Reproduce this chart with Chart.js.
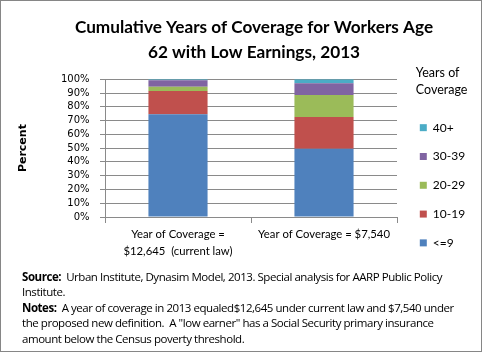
<!DOCTYPE html>
<html>
<head>
<meta charset="utf-8">
<script src="https://cdn.jsdelivr.net/npm/chart.js@4"></script>
<style>
  html, body { margin: 0; padding: 0; background: #fff; }
  #frame { position: relative; width: 480px; height: 350px; border: 1px solid #868686; overflow: hidden; }
  #wrap { position: absolute; left: 0; top: 0; width: 480px; height: 300px; }
  #notes { position: absolute; left: 21px; top: 268px; width: 455px; white-space: nowrap; font-family: "Open Sans", sans-serif; font-size: 11.5px; line-height: 15.4px; color: #000; letter-spacing: -0.45px; }
  #notes b { font-weight: bold; }
</style>
</head>
<body>
<div id="frame">
  <div id="wrap"><canvas id="chart"></canvas></div>
  <div id="notes">
    <b>Source:</b>&nbsp; Urban Institute, Dynasim Model, 2013. Special analysis for AARP Public Policy<br>
    Institute.<br>
    <b>Notes:</b>&nbsp; A year of coverage in 2013 equaled$12,645 under current law and $7,540 under<br>
    the proposed new definition.&nbsp; A "low earner" has a Social Security primary insurance<br>
    amount below the Census poverty threshold.
  </div>
</div>
<script>
// categories (x axis)
const categories = [
  ['Year of Coverage =', '$12,645  (current law)'],
  'Year of Coverage = $7,540'
];

// series, bottom to top, percent of workers
const seriesNames = ['<=9', '10-19', '20-29', '30-39', '40+'];
const le9 = [74.5, 49.5];
const y10to19 = [17.0, 23.0];
const y20to29 = [3.1, 16.0];
const y30to39 = [4.7, 8.6];
const y40plus = [0.7, 2.9];
const colors = ['#4F81BD', '#C0504D', '#9BBB59', '#8064A2', '#4BACC6'];

// y tick labels
const yTicks = [0, 10, 20, 30, 40, 50, 60, 70, 80, 90, 100];

const seriesValues = [le9, y10to19, y20to29, y30to39, y40plus];
const datasets = seriesNames.map((name, i) => ({
  label: name,
  data: seriesValues[i],
  backgroundColor: colors[i],
  borderWidth: 0,
  categoryPercentage: 1,
  barPercentage: 0.405
}));

const gridColor = '#8a8a8a';

new Chart(document.getElementById('chart'), {
  type: 'bar',
  data: { labels: categories, datasets: datasets },
  options: {
    responsive: true,
    maintainAspectRatio: false,
    animation: false,
    layout: { padding: { left: 16, right: -10, top: 0, bottom: 0 } },
    plugins: {
      title: {
        display: true,
        text: ['Cumulative Years of Coverage for Workers Age', '62 with Low Earnings, 2013'],
        color: '#000',
        font: { family: 'Lato', size: 17.2, weight: 'bold', lineHeight: 1.46 },
        padding: { top: 14, bottom: 14 }
      },
      legend: {
        position: 'right',
        align: 'start',
        reverse: true,
        maxWidth: 88,
        title: {
          display: true,
          position: 'start',
          text: ['    Years of', '    Coverage'],
          color: '#000',
          font: { family: 'Lato', size: 12.5, lineHeight: 1.35 },
          padding: { top: 66, bottom: 21 }
        },
        labels: {
          boxWidth: 7,
          boxHeight: 7,
          padding: 16.8,
          color: '#000',
          font: { family: 'Lato', size: 12 },
          // pad the text so the legend column is wide enough, then cap it with maxWidth
          generateLabels: chart => Chart.defaults.plugins.legend.labels.generateLabels(chart)
            .map(item => Object.assign(item, { text: item.text + '            ' }))
        }
      },
      tooltip: { enabled: false }
    },
    scales: {
      x: {
        stacked: true,
        afterFit: axis => { axis.height = 84; },
        border: { color: gridColor },
        grid: { display: true, drawOnChartArea: false, color: gridColor, tickLength: 6, offset: true },
        ticks: { color: '#000', font: { family: 'Lato', size: 11.3, lineHeight: 1.5 }, maxRotation: 0, autoSkip: false, padding: 3 }
      },
      y: {
        stacked: true,
        min: 0,
        max: 100,
        afterBuildTicks: axis => { axis.ticks = yTicks.map(v => ({ value: v })); },
        afterFit: axis => { axis.width = 88; },
        border: { color: gridColor },
        grid: { color: gridColor, tickLength: 5 },
        ticks: { color: '#000', font: { family: 'DejaVu Sans', size: 10 }, padding: 10.5, autoSkip: false, callback: v => v + '%' },
        title: {
          display: true,
          text: 'Percent',
          color: '#000',
          font: { family: 'DejaVu Sans', size: 11, weight: 'bold' },
          padding: { top: 0, bottom: 25 }
        }
      },
      // empty spacer between plot and legend
      gap: {
        type: 'linear',
        position: 'right',
        afterFit: axis => { axis.width = 6; },
        grid: { display: false },
        border: { display: false },
        ticks: { display: false }
      }
    }
  }
});
</script>
</body>
</html>
